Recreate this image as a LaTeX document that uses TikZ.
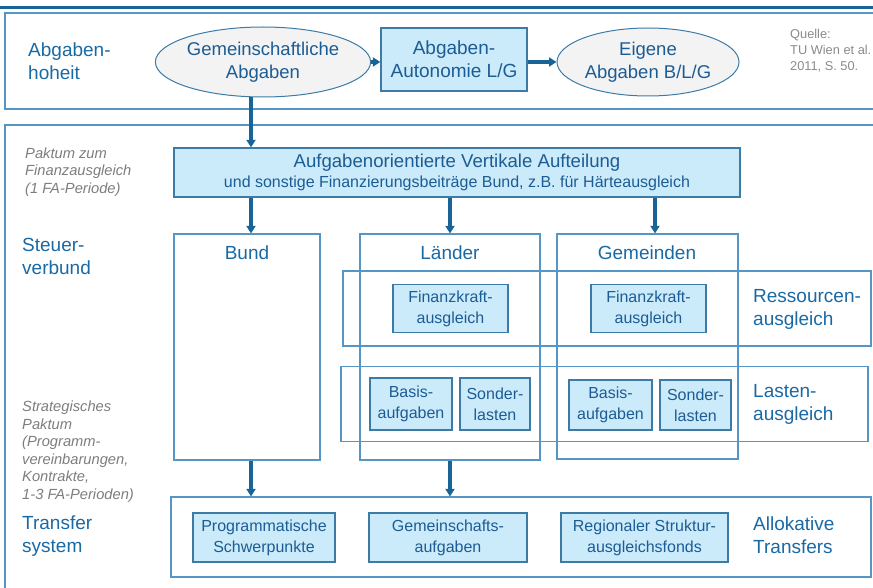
\documentclass[tikz,border=0pt]{standalone}
\usepackage{fontspec}
\setmainfont{Liberation Sans}
\usetikzlibrary{shapes.geometric,arrows.meta}
\definecolor{textblue}{RGB}{25,105,165}
\definecolor{boxtext}{RGB}{28,92,148}
\definecolor{framec}{RGB}{85,150,198}
\definecolor{darkc}{RGB}{25,100,150}
\definecolor{boxfill}{RGB}{204,235,250}
\definecolor{ellfill}{RGB}{243,243,243}
\definecolor{graytext}{RGB}{125,125,125}
\tikzset{
  frame/.style={draw=framec,line width=1.3pt},
  colbox/.style={draw=framec,line width=1.2pt,rectangle,inner sep=0pt},
  fillbox/.style={draw=darkc!85,line width=1.3pt,fill=boxfill,rectangle,inner sep=0pt,align=center,text=boxtext,font=\fontsize{16}{21}\selectfont},
  bigbox/.style={fillbox,font=\fontsize{19}{23}\selectfont},
  ell/.style={ellipse,draw=darkc!85,line width=1pt,fill=ellfill,inner sep=0pt,align=center,text=boxtext,font=\fontsize{18.5}{23}\selectfont},
  arr/.style={draw=darkc,line width=3.3pt,-{Triangle[width=9pt,length=7.5pt]}},
  lab/.style={anchor=west,align=left,text=textblue,font=\fontsize{19}{23}\selectfont,inner sep=0pt},
  note/.style={anchor=west,align=left,text=graytext,font=\fontsize{14.7}{17.5}\selectfont\itshape,inner sep=0pt},
}
\begin{document}
\begin{tikzpicture}[x=1pt,y=-1pt]
\useasboundingbox (0,0) rectangle (873,588);
% top line and frames
\draw[draw=darkc,line width=3pt] (0,8) -- (873,8);
\draw[frame] (5,13) rectangle (890,109);
\draw[frame] (5,125) rectangle (890,600);

% top row
\node[lab] (hoheit) at (28,61) {Abgaben-\\hoheit};
\node[ell,minimum width=180pt,minimum height=70pt] (g1) at (263,62) {Gemeinschaftliche\\Abgaben};
\node[bigbox,minimum width=146pt,minimum height=63pt] (aut) at (454,59.5) {Abgaben-\\Autonomie L/G};
\node[ell,minimum width=182pt,minimum height=68pt] (g2) at (648,62) {Eigene\\Abgaben B/L/G};
\node[anchor=north west,align=left,text=graytext!90,font=\fontsize{12.8}{16}\selectfont,inner sep=0pt] (quelle) at (790,29) {Quelle:\\TU Wien et al.\\2011, S. 50.};
\draw[arr] (g1.east) -- (g1.east -| aut.west);
\draw[arr] (aut.east |- g2.west) -- (g2.west);

% Paktum
\node[note] (paktum) at (25,172) {Paktum zum\\Finanzausgleich\\(1 FA-Periode)};
\node[fillbox,minimum width=566pt,minimum height=49pt] (pak) at (457,172.5)
  {{\fontsize{18.6}{22}\selectfont Aufgabenorientierte Vertikale Aufteilung}\\[-1pt]und sonstige Finanzierungsbeiträge Bund, z.B. für Härteausgleich};
\coordinate (xa) at (251,0);
\coordinate (xb) at (450,0);
\coordinate (xc) at (655,0);
\draw[arr] (g1.south -| xa) -- (pak.north -| xa);

% columns
\node[lab] (steuer) at (22,256.5) {Steuer-\\verbund};
\node[colbox,minimum width=146pt,minimum height=226pt] (bund) at (247,347) {};
\node[colbox,minimum width=180pt,minimum height=226pt] (laender) at (450,347) {};
\node[colbox,minimum width=181pt,minimum height=225pt] (gem) at (647.5,346.5) {};
\node[text=textblue,font=\fontsize{19}{23}\selectfont] (tbund) at (247,253) {Bund};
\node[text=textblue,font=\fontsize{19}{23}\selectfont] (tlaender) at (450,253) {Länder};
\node[text=textblue,font=\fontsize{19}{23}\selectfont] (tgem) at (647,253) {Gemeinden};
\draw[arr] (pak.south -| xa) -- (bund.north -| xa);
\draw[arr] (pak.south -| xb) -- (laender.north -| xb);
\draw[arr] (pak.south -| xc) -- (gem.north -| xc);

% rows
\node[colbox,minimum width=528pt,minimum height=75pt] (ress) at (607,308.5) {};
\node[colbox,minimum width=527pt,minimum height=75pt] (last) at (604.5,404) {};
\node[lab] (tress) at (753,309.5) {Ressourcen-\\ausgleich};
\node[lab] (tlast) at (753,404.5) {Lasten-\\ausgleich};

\node[fillbox,minimum width=115pt,minimum height=48pt] (fkl) at (450.5,308.5) {Finanzkraft-\\ausgleich};
\node[fillbox,minimum width=115pt,minimum height=48pt] (fkg) at (648.5,308.5) {Finanzkraft-\\ausgleich};
\node[fillbox,minimum width=82pt,minimum height=52pt] (bal) at (411,404) {Basis-\\aufgaben};
\node[fillbox,minimum width=70pt,minimum height=52pt] (sol) at (495,404) {Sonder-\\lasten};
\node[fillbox,minimum width=83pt,minimum height=50pt] (bag) at (610.5,405) {Basis-\\aufgaben};
\node[fillbox,minimum width=71pt,minimum height=50pt] (sog) at (695.5,405) {Sonder-\\lasten};

% transfer
\node[note] (strat) at (22,451.5) {Strategisches\\Paktum\\(Programm-\\vereinbarungen,\\Kontrakte,\\1-3 FA-Perioden)};
\node[lab] (ttrans) at (22,536.5) {Transfer\\system};
\node[colbox,minimum width=700pt,minimum height=80pt] (trans) at (521,537) {};
\draw[arr] (bund.south -| xa) -- (trans.north -| xa);
\draw[arr] (laender.south -| xb) -- (trans.north -| xb);
\node[fillbox,minimum width=142pt,minimum height=49pt] (prog) at (264,537.5) {Programmatische\\Schwerpunkte};
\node[fillbox,minimum width=158pt,minimum height=49pt] (gema) at (448,537.5) {Gemeinschafts-\\aufgaben};
\node[fillbox,minimum width=167pt,minimum height=49pt] (reg) at (644.5,537.5) {Regionaler Struktur-\\ausgleichsfonds};
\node[lab] (tallo) at (753,535.5) {Allokative\\Transfers};
\end{tikzpicture}
\end{document}
